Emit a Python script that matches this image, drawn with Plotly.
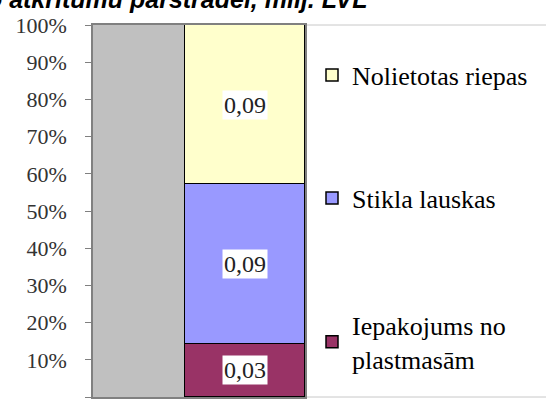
import plotly.graph_objects as go

# data (milj. LVL)
series_names = ['Iepakojums no<br>plastmasām', 'Stikla lauskas', 'Nolietotas riepas']
series_values = [0.03, 0.09, 0.09]
series_colors = ['#993366', '#9999FF', '#FFFFCC']
value_labels = ['0,03', '0,09', '0,09']
y_ticks = [0, 10, 20, 30, 40, 50, 60, 70, 80, 90, 100]
y_tick_text = [f'{t}%' for t in y_ticks]

W, H = 546, 401
L, R, T, B = 93, 241, 25, 4
pw = W - L - R
ph = H - T - B

total = sum(series_values)
pct = [v / total * 100 for v in series_values]

fig = go.Figure()
legend_ids = ['legend3', 'legend2', 'legend']
for name, val, col, lg in zip(series_names, series_values, series_colors, legend_ids):
    fig.add_trace(go.Bar(
        x=[0], y=[val], name=name, width=[1.0],
        marker=dict(color=col, line=dict(color='#000000', width=1.5)),
        legend=lg, hoverinfo='skip'
    ))

# value labels in white boxes at segment centers
annotations = []
cum = 0
for p, lab in zip(pct, value_labels):
    annotations.append(dict(
        x=0, y=cum + p / 2, xref='x', yref='y', text=lab, showarrow=False,
        bgcolor='white', borderpad=1,
        font=dict(family='Liberation Serif', size=24, color='#222222')
    ))
    cum += p

# cropped title
annotations.append(dict(
    x=(370 - L) / pw, y=1 + (T - 15) / ph, xref='paper', yref='paper',
    xanchor='right', yanchor='bottom', showarrow=False,
    text='<b><i>Ieņēmumi no atkritumu pārstrādei, milj. LVL</i></b>',
    font=dict(family='Liberation Sans', size=25, color='#000000')
))

def lx(px):
    return (px - L) / pw

def ly(px):
    return 1 - (px - T) / ph

leg_font = dict(family='Liberation Serif', size=26, color='#000000')
legend_common = dict(bgcolor='rgba(0,0,0,0)', borderwidth=0, font=leg_font,
                     xanchor='left', yanchor='middle', itemwidth=30)

fig.update_layout(
    width=W, height=H,
    margin=dict(l=L, r=R, t=T, b=B, autoexpand=False),
    paper_bgcolor='white',
    plot_bgcolor='#C0C0C0',
    barmode='stack',
    barnorm='percent',
    bargap=0,
    showlegend=True,
    legend=dict(x=lx(312), y=ly(75), **legend_common),
    legend2=dict(x=lx(312), y=ly(198), **legend_common),
    legend3=dict(x=lx(312), y=ly(342), **legend_common),
    annotations=annotations,
    shapes=[dict(type='rect', xref='paper', yref='paper',
                 x0=1, x1=3, y0=0, y1=1,
                 line=dict(color='#C8C8C8', width=1), fillcolor='white', layer='below')],
    xaxis=dict(range=[0.5 - pw / 120, 0.5], showticklabels=False, showgrid=False,
               zeroline=False, showline=True, linecolor='#808080', linewidth=1.5,
               mirror=True, fixedrange=True),
    yaxis=dict(range=[0, 100], tickmode='array', tickvals=y_ticks, ticktext=y_tick_text,
               showgrid=False, zeroline=False, showline=True, linecolor='#808080',
               linewidth=1.5, mirror=True, ticks='outside', ticklen=6, tickcolor='#808080',
               ticklabelstandoff=14,
               tickfont=dict(family='Liberation Serif', size=22, color='#333333')),
)

# drop the default 8px body margin so the figure sits at the window's corner
fig.write_html("out.html", config={'displayModeBar': False},
               post_script="document.body.style.margin='0px';")
